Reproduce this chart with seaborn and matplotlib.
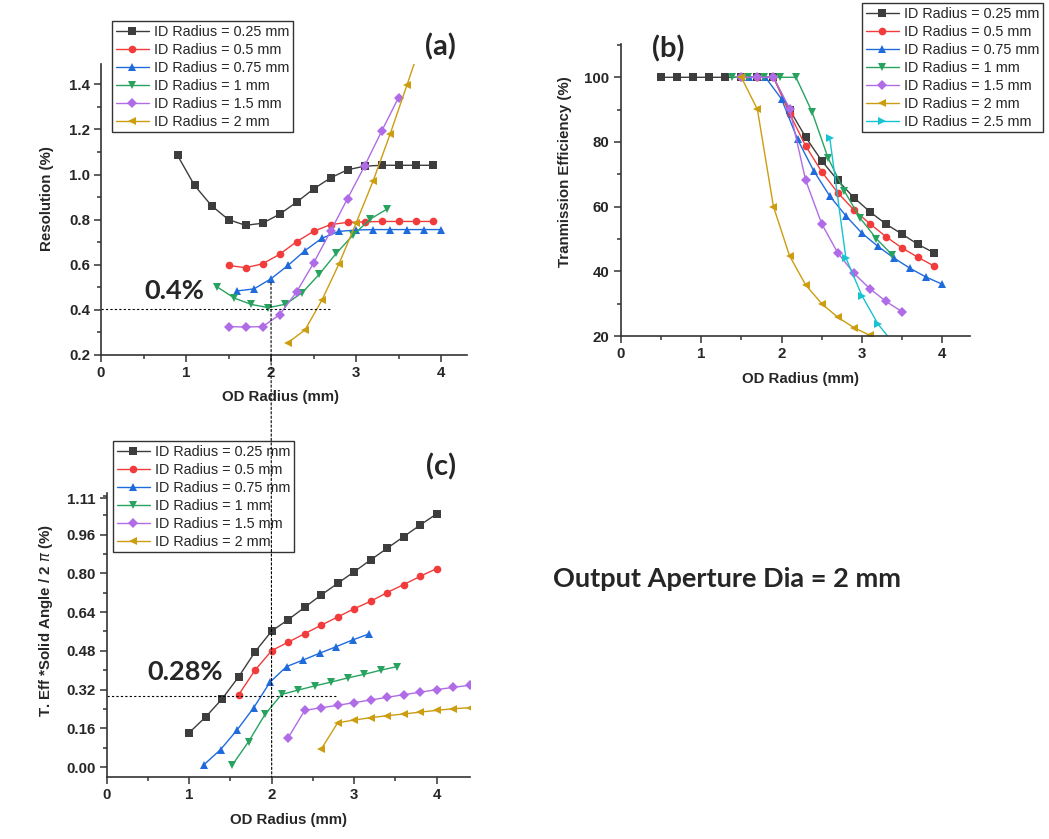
import numpy as np
import pandas as pd
import matplotlib.pyplot as plt
import seaborn as sns
from matplotlib.patches import ConnectionPatch
from matplotlib.ticker import MultipleLocator

sns.set_style("ticks")
plt.rcParams['font.family'] = ['Liberation Sans', 'DejaVu Sans']

W, H = 1049, 839

labels = ['ID Radius = 0.25 mm', 'ID Radius = 0.5 mm', 'ID Radius = 0.75 mm',
          'ID Radius = 1 mm', 'ID Radius = 1.5 mm', 'ID Radius = 2 mm',
          'ID Radius = 2.5 mm']
colors = ['#3d3d3d', '#f23c3c', '#1f6bdc', '#27a35f', '#b06ce6', '#cc9d10', '#17c3d0']
markers = ['s', 'o', '^', 'v', 'D', '<', '>']
msizes = [5.5, 5.5, 6, 6, 5, 6, 6]

# (a) resolution vs OD radius
a_x_025 = [0.9, 1.1, 1.3, 1.5, 1.7, 1.9, 2.1, 2.3, 2.5, 2.7, 2.9, 3.1, 3.3, 3.5, 3.7, 3.9]
a_y_025 = [1.085, 0.952, 0.862, 0.80, 0.775, 0.784, 0.824, 0.877, 0.936, 0.985, 1.021, 1.037, 1.041, 1.041, 1.041, 1.041]
a_x_05 = [1.5, 1.7, 1.9, 2.1, 2.3, 2.5, 2.7, 2.9, 3.1, 3.3, 3.5, 3.7, 3.9]
a_y_05 = [0.597, 0.587, 0.604, 0.646, 0.702, 0.748, 0.778, 0.788, 0.790, 0.792, 0.792, 0.792, 0.792]
a_x_075 = [1.6, 1.8, 2.0, 2.2, 2.4, 2.6, 2.8, 3.0, 3.2, 3.4, 3.6, 3.8, 4.0]
a_y_075 = [0.484, 0.493, 0.538, 0.597, 0.663, 0.718, 0.748, 0.754, 0.756, 0.756, 0.756, 0.756, 0.756]
a_x_1 = [1.37, 1.57, 1.77, 1.97, 2.17, 2.37, 2.57, 2.77, 2.97, 3.17, 3.37]
a_y_1 = [0.501, 0.452, 0.424, 0.41, 0.425, 0.477, 0.559, 0.652, 0.733, 0.803, 0.848]
a_x_15 = [1.5, 1.7, 1.9, 2.1, 2.3, 2.5, 2.7, 2.9, 3.1, 3.3, 3.5]
a_y_15 = [0.326, 0.324, 0.326, 0.378, 0.479, 0.607, 0.748, 0.893, 1.037, 1.191, 1.341]
a_x_2 = [2.2, 2.4, 2.6, 2.8, 3.0, 3.2, 3.4, 3.6, 3.8]
a_y_2 = [0.255, 0.311, 0.444, 0.604, 0.784, 0.97, 1.178, 1.397, 1.62]

# (b) transmission efficiency vs OD radius
b_x_025 = [0.5, 0.7, 0.9, 1.1, 1.3, 1.5, 1.7, 1.9, 2.1, 2.3, 2.5, 2.7, 2.9, 3.1, 3.3, 3.5, 3.7, 3.9]
b_y_025 = [100, 100, 100, 100, 100, 100, 100, 100, 90, 81.5, 74.2, 68.1, 62.8, 58.4, 54.6, 51.5, 48.3, 45.7]
b_x_05 = [1.5, 1.7, 1.9, 2.1, 2.3, 2.5, 2.7, 2.9, 3.1, 3.3, 3.5, 3.7, 3.9]
b_y_05 = [100, 100, 100, 88.8, 78.8, 70.8, 64.3, 59.0, 54.7, 50.7, 47.2, 44.3, 41.6]
b_x_075 = [1.6, 1.8, 2.0, 2.2, 2.4, 2.6, 2.8, 3.0, 3.2, 3.4, 3.6, 3.8, 4.0]
b_y_075 = [100, 100, 93.3, 80.8, 71.1, 63.3, 57.2, 51.8, 47.7, 44.1, 40.9, 38.2, 36.0]
b_x_1 = [1.38, 1.58, 1.78, 1.98, 2.18, 2.38, 2.58, 2.78, 2.98, 3.18, 3.38]
b_y_1 = [100, 100, 100, 100, 100, 89.3, 75.0, 64.9, 56.4, 50.1, 45.0]
b_x_15 = [1.5, 1.7, 1.9, 2.1, 2.3, 2.5, 2.7, 2.9, 3.1, 3.3, 3.5]
b_y_15 = [100, 100, 100, 90.3, 68.2, 54.7, 45.7, 39.4, 34.6, 30.7, 27.5]
b_x_2 = [1.5, 1.7, 1.9, 2.1, 2.3, 2.5, 2.7, 2.9, 3.1]
b_y_2 = [100, 90.1, 60.0, 44.8, 35.8, 30.0, 25.8, 22.6, 20.2]
b_x_25 = [2.6, 2.8, 3.0, 3.2, 3.4]
b_y_25 = [81.3, 44.2, 32.5, 23.7, 17.5]

# (c) T. Eff * solid angle / 2pi vs OD radius
c_x_025 = [1.0, 1.2, 1.4, 1.6, 1.8, 2.0, 2.2, 2.4, 2.6, 2.8, 3.0, 3.2, 3.4, 3.6, 3.8, 4.0]
c_y_025 = [0.142, 0.207, 0.282, 0.373, 0.477, 0.562, 0.609, 0.660, 0.711, 0.759, 0.807, 0.856, 0.904, 0.952, 1.0, 1.046]
c_x_05 = [1.6, 1.8, 2.0, 2.2, 2.4, 2.6, 2.8, 3.0, 3.2, 3.4, 3.6, 3.8, 4.0]
c_y_05 = [0.299, 0.401, 0.481, 0.516, 0.551, 0.586, 0.620, 0.654, 0.685, 0.721, 0.754, 0.788, 0.820]
c_x_075 = [1.18, 1.38, 1.58, 1.78, 1.98, 2.18, 2.38, 2.58, 2.78, 2.98, 3.18]
c_y_075 = [0.01, 0.072, 0.153, 0.244, 0.351, 0.415, 0.442, 0.470, 0.497, 0.525, 0.550]
c_x_1 = [1.52, 1.72, 1.92, 2.12, 2.32, 2.52, 2.72, 2.92, 3.12, 3.32, 3.52]
c_y_1 = [0.007, 0.105, 0.218, 0.30, 0.318, 0.335, 0.351, 0.368, 0.383, 0.40, 0.415]
c_x_15 = [2.2, 2.4, 2.6, 2.8, 3.0, 3.2, 3.4, 3.6, 3.8, 4.0, 4.2, 4.4]
c_y_15 = [0.121, 0.234, 0.245, 0.255, 0.266, 0.277, 0.288, 0.299, 0.309, 0.320, 0.329, 0.338]
c_x_2 = [2.6, 2.8, 3.0, 3.2, 3.4, 3.6, 3.8, 4.0, 4.2, 4.4]
c_y_2 = [0.074, 0.183, 0.194, 0.204, 0.212, 0.219, 0.227, 0.234, 0.241, 0.245]

res_level = 0.403
prod_level = 0.295


def px_axes(fig, left, top, right, bottom):
    return fig.add_axes([left / W, 1 - bottom / H, (right - left) / W, (bottom - top) / H])


def series(ax, xs, ys, i):
    sns.lineplot(x=xs, y=ys, ax=ax, color=colors[i], marker=markers[i],
                 markersize=msizes[i], markeredgewidth=0, linewidth=1,
                 label=labels[i], sort=False)


def style(ax, xmax, ylo, yhi, yticks, ylabels, yminor):
    ax.set_xlim(0, xmax)
    ax.set_ylim(ylo, yhi)
    ax.set_xticks([0, 1, 2, 3, 4], ['0', '1', '2', '3', '4'], fontweight='bold', fontsize=10.8)
    ax.set_yticks(yticks, ylabels, fontweight='bold', fontsize=10.8)
    ax.xaxis.set_minor_locator(MultipleLocator(0.5))
    ax.yaxis.set_minor_locator(MultipleLocator(yminor))
    ax.tick_params(which='major', length=5, width=1.1, color='#333333', pad=3)
    ax.tick_params(which='minor', length=3, width=1.1, color='#333333')
    for s in ['top', 'right']:
        ax.spines[s].set_visible(False)
    for s in ['left', 'bottom']:
        ax.spines[s].set_color('#333333')
        ax.spines[s].set_linewidth(1.2)
    ax.set_xlabel('')
    ax.set_ylabel('')


def legend(ax, fig, x, y):
    leg = ax.legend(loc='upper left', bbox_to_anchor=(x / W, 1 - y / H),
                    bbox_transform=fig.transFigure, borderaxespad=0,
                    fontsize=10.4, frameon=True, fancybox=False, framealpha=1,
                    edgecolor='#333333', handlelength=2.3, handletextpad=0.35,
                    labelspacing=0.28, borderpad=0.25)
    leg.get_frame().set_linewidth(1.0)


fig = plt.figure(figsize=(W / 100, H / 100), dpi=100)

ax_a = px_axes(fig, 101, 64, 101 + 4.3 * 85, 355)
for i, (xs, ys) in enumerate([(a_x_025, a_y_025), (a_x_05, a_y_05), (a_x_075, a_y_075),
                              (a_x_1, a_y_1), (a_x_15, a_y_15), (a_x_2, a_y_2)]):
    series(ax_a, xs, ys, i)
style(ax_a, 4.3, 0.2, 1.49, [0.2, 0.4, 0.6, 0.8, 1.0, 1.2, 1.4],
      ['0.2', '0.4', '0.6', '0.8', '1.0', '1.2', '1.4'], 0.1)
ax_a.plot([0, 2.7], [res_level, res_level], color='black', lw=0.8, ls=(0, (2, 2)))
legend(ax_a, fig, 112, 21)

ax_b = px_axes(fig, 620.7, 44.3, 620.7 + 4.34 * 80.4, 336)
for i, (xs, ys) in enumerate([(b_x_025, b_y_025), (b_x_05, b_y_05), (b_x_075, b_y_075),
                              (b_x_1, b_y_1), (b_x_15, b_y_15), (b_x_2, b_y_2),
                              (b_x_25, b_y_25)]):
    series(ax_b, xs, ys, i)
style(ax_b, 4.34, 20, 110.2, [20, 40, 60, 80, 100], ['20', '40', '60', '80', '100'], 10)
legend(ax_b, fig, 862, 3)

ax_c = px_axes(fig, 106.7, 493.3, 106.7 + 4.4 * 82.5, 776.7)
for i, (xs, ys) in enumerate([(c_x_025, c_y_025), (c_x_05, c_y_05), (c_x_075, c_y_075),
                              (c_x_1, c_y_1), (c_x_15, c_y_15), (c_x_2, c_y_2)]):
    series(ax_c, xs, ys, i)
cticks = [0.0, 0.16, 0.32, 0.48, 0.64, 0.80, 0.96, 1.11]
style(ax_c, 4.4, -0.04, 1.131, cticks, ['%.2f' % t for t in cticks], 0.08)
ax_c.plot([0, 2.78], [prod_level, prod_level], color='black', lw=0.8, ls=(0, (2, 2)))
legend(ax_c, fig, 113, 441)

# vertical guide at OD radius = 2 mm through (a) and (c)
con = ConnectionPatch(xyA=(2, 0.52), coordsA='data', axesA=ax_a,
                      xyB=(2, -0.04), coordsB='data', axesB=ax_c,
                      color='black', lw=0.8, ls=(0, (2, 2)))
fig.add_artist(con)

# axis titles
lab = dict(fontweight='bold', fontsize=10.8, ha='center', va='center')
fig.text(281 / W, 1 - 397 / H, 'OD Radius (mm)', **lab)
fig.text(801 / W, 1 - 379 / H, 'OD Radius (mm)', **lab)
fig.text(288 / W, 1 - 820 / H, 'OD Radius (mm)', **lab)
fig.text(47 / W, 1 - 199 / H, 'Resolution (%)', rotation=90, **lab)
fig.text(565 / W, 1 - 172 / H, 'Tranmission Efficiency (%)', rotation=90, **lab)
fig.text(46 / W, 1 - 621 / H, r'T. Eff *Solid Angle / 2 $\pi$ (%)', rotation=90, **lab)

big = dict(family=['Lato', 'DejaVu Sans'], fontweight='bold', ha='center', va='center')
fig.text(440 / W, 1 - 47 / H, '(a)', fontsize=21, **big)
fig.text(668 / W, 1 - 49 / H, '(b)', fontsize=21, **big)
fig.text(441 / W, 1 - 467 / H, '(c)', fontsize=21, **big)
fig.text(174 / W, 1 - 291 / H, '0.4%', fontsize=19.5, **big)
fig.text(185 / W, 1 - 672 / H, '0.28%', fontsize=19.5, **big)
fig.text(727 / W, 1 - 579 / H, 'Output Aperture Dia = 2 mm', fontsize=19.5, **big)

fig.savefig('out.png', dpi=100)
